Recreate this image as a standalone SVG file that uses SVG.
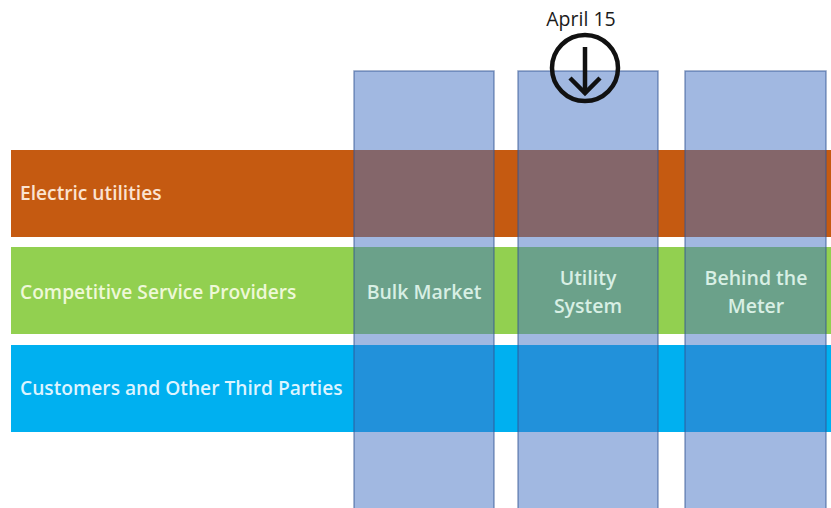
<svg xmlns="http://www.w3.org/2000/svg" width="831" height="508" viewBox="0 0 831 508">
<style>
.row-label{font-family:"Open Sans","Liberation Sans",sans-serif;font-size:19.2px;font-weight:600;}
.col{fill:#4472C4;fill-opacity:0.5;stroke:#2F528F;stroke-opacity:0.55;stroke-width:1.5;}
.col-label{font-family:"Open Sans","Liberation Sans",sans-serif;font-size:19.5px;font-weight:600;fill:#D8EFE4;text-anchor:middle;}
</style>
<rect width="831" height="508" fill="#ffffff"/>
<g id="row-electric">
<rect x="11" y="150" width="820" height="87" fill="#C55A11"/>
<text class="row-label" x="20" y="200" fill="#FBE3D1">Electric utilities</text>
</g>
<g id="row-competitive">
<rect x="11" y="247" width="820" height="87" fill="#92D050"/>
<text class="row-label" x="20" y="299" fill="#EEF8D8">Competitive Service Providers</text>
</g>
<g id="row-customers">
<rect x="11" y="345" width="820" height="87" fill="#00B0F0"/>
<text class="row-label" x="20" y="395" fill="#DDF4FF">Customers and Other Third Parties</text>
</g>
<g id="col-bulk">
<rect class="col" x="354" y="71" width="140" height="445"/>
<text class="col-label" x="424" y="299">Bulk Market</text>
</g>
<g id="col-utility">
<rect class="col" x="518" y="71" width="140" height="445"/>
<text class="col-label" x="588" y="285">Utility</text>
<text class="col-label" x="588" y="313">System</text>
</g>
<g id="col-meter">
<rect class="col" x="685" y="71" width="141" height="445"/>
<text class="col-label" x="756" y="285">Behind the</text>
<text class="col-label" x="756" y="313">Meter</text>
</g>
<g id="april15">
<text x="581" y="26" font-family="Open Sans,'Liberation Sans',sans-serif" font-size="19.5" fill="#1a1a1a" text-anchor="middle">April 15</text>
<circle cx="585" cy="68" r="33" fill="none" stroke="#111111" stroke-width="4.5"/>
<line x1="585" y1="47" x2="585" y2="93" stroke="#111111" stroke-width="4.5"/>
<polyline points="570,78 585,93 600,78" fill="none" stroke="#111111" stroke-width="4.5" stroke-linejoin="miter"/>
</g>
</svg>
